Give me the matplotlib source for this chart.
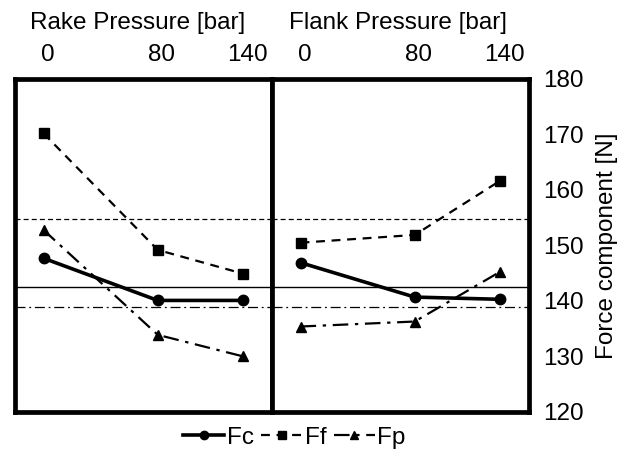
import matplotlib.pyplot as plt
from matplotlib.transforms import ScaledTranslation

plt.rcParams["font.family"] = ["Liberation Sans", "DejaVu Sans"]

pressure = [0, 80, 140]
pressure_labels = ["0", "80", "140"]

rake_fc = [147.7, 140.1, 140.1]
rake_ff = [170.2, 149.2, 144.9]
rake_fp = [152.8, 133.9, 130.0]

flank_fc = [146.9, 140.7, 140.3]
flank_ff = [150.5, 151.9, 161.7]
flank_fp = [135.4, 136.3, 145.3]

mean_fc = 142.6
mean_ff = 154.7
mean_fp = 138.9

panel_titles = ["Rake Pressure [bar]", "Flank Pressure [bar]"]

FS = 17.5

fig = plt.figure(figsize=(6.29, 4.57), dpi=100)
ax_left = fig.add_axes([0.0238, 0.0985, 0.4086, 0.7287])
ax_right = fig.add_axes([0.4324, 0.0985, 0.4086, 0.7287], sharey=ax_left)

panels = [
    (ax_left, rake_fc, rake_ff, rake_fp, panel_titles[0], -0.06),
    (ax_right, flank_fc, flank_ff, flank_fp, panel_titles[1], -0.02),
]

handles = []
for ax, fc, ff, fp, title, title_shift in panels:
    ax.axhline(mean_ff, color="black", lw=0.9, ls=(0, (4, 2.5)))
    ax.axhline(mean_fc, color="black", lw=1.0, ls="-")
    ax.axhline(mean_fp, color="black", lw=0.9, ls=(0, (8, 3, 1.5, 3)))

    h_fc, = ax.plot(pressure, fc, color="black", lw=2.6, marker="o", ms=7.5)
    h_ff, = ax.plot(pressure, ff, color="black", lw=1.6, ls=(0, (4, 3)),
                    marker="s", ms=6.5)
    h_fp, = ax.plot(pressure, fp, color="black", lw=1.6, ls=(0, (7, 3, 1.5, 3)),
                    marker="^", ms=7)
    handles = [h_fc, h_ff, h_fp]

    ax.set_xlim(-20, 160)
    ax.set_xticks(pressure)
    ax.set_xticklabels(pressure_labels, fontsize=FS)
    ax.xaxis.tick_top()
    ax.xaxis.set_label_position("top")
    ax.set_xlabel(title, fontsize=FS, labelpad=11)
    ax.tick_params(axis="x", length=0, pad=9)
    # labels in the source sit a little right of the data points
    nudge = ScaledTranslation(0.04, 0, fig.dpi_scale_trans)
    for lbl in ax.get_xticklabels():
        lbl.set_transform(lbl.get_transform() + nudge)
    ax.xaxis.label.set_transform(
        ax.xaxis.label.get_transform() + ScaledTranslation(title_shift, 0, fig.dpi_scale_trans)
    )
    for spine in ax.spines.values():
        spine.set_linewidth(3.4)

ax_left.set_ylim(120, 180)
ax_left.set_yticks([120, 130, 140, 150, 160, 170, 180])
ax_left.tick_params(axis="y", left=False, labelleft=False)
ax_right.yaxis.tick_right()
ax_right.yaxis.set_label_position("right")
ax_right.tick_params(axis="y", length=0, pad=10, labelsize=FS, left=False)
ax_right.set_ylabel("Force component [N]", fontsize=FS, labelpad=9)

fig.legend(handles, ["Fc", "Ff", "Fp"], loc="center", bbox_to_anchor=(0.468, 0.042),
           ncol=3, frameon=False, fontsize=FS, handlelength=1.7, markerscale=0.8,
           handletextpad=0.1, columnspacing=0.3, borderaxespad=0)

fig.savefig("out.png", dpi=100)
